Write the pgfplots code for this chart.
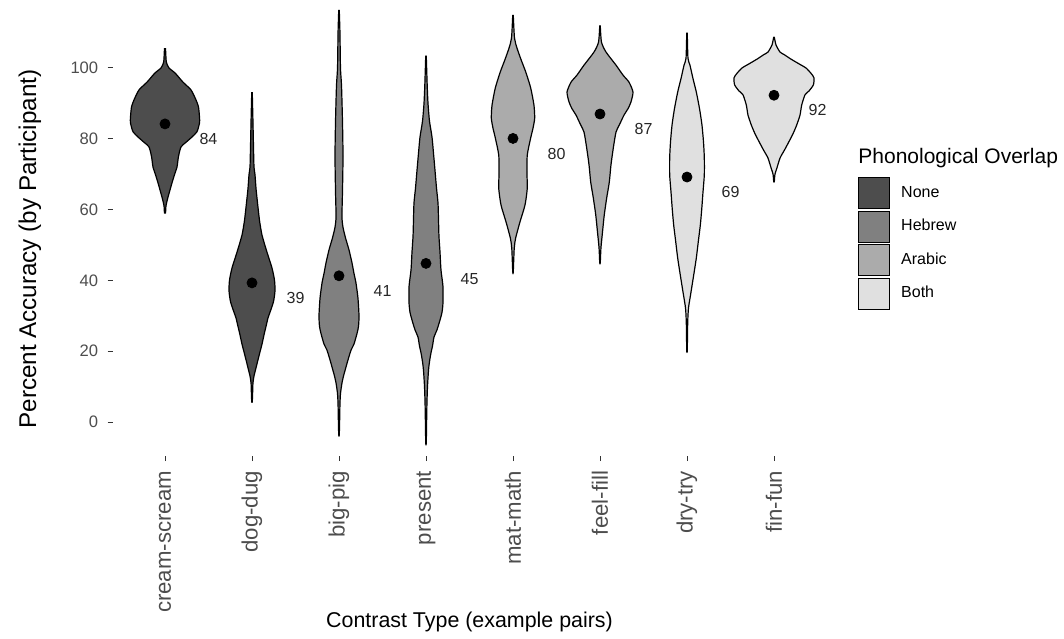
\documentclass[border=0pt]{standalone}
\usepackage{fontspec}
\setmainfont{Liberation Sans}
\usepackage{pgfplots}
\pgfplotsset{compat=1.18}
\usepackage{pgfplotstable}
\definecolor{cNone}{HTML}{4D4D4D}
\definecolor{cHeb}{HTML}{808080}
\definecolor{cAra}{HTML}{ABABAB}
\definecolor{cBoth}{HTML}{E0E0E0}
\definecolor{axtext}{HTML}{4D4D4D}
\definecolor{tickc}{HTML}{333333}

% violin outlines: accuracy v, signed horizontal offset d from the category centre (x units)
\pgfplotstableread{
v d
105.6 0.006
103 0.011
101.5 0.017
100 0.046
98.6 0.115
96 0.207
93.8 0.299
91 0.356
89 0.385
86 0.397
84.5 0.397
82 0.368
80.5 0.310
79 0.241
77.7 0.184
75 0.155
72 0.138
70.3 0.115
68 0.086
65.5 0.057
63 0.029
61 0.011
59 0.006
59 -0.006
61 -0.011
63 -0.029
65.5 -0.057
68 -0.086
70.3 -0.115
72 -0.138
75 -0.155
77.7 -0.184
79 -0.241
80.5 -0.310
82 -0.368
84.5 -0.397
86 -0.397
89 -0.385
91 -0.356
93.8 -0.299
96 -0.207
98.6 -0.115
100 -0.046
101.5 -0.017
103 -0.011
105.6 -0.006
}\vA
\pgfplotstableread{
v d
93.2 0.003
85 0.011
78 0.017
72 0.023
70 0.034
66 0.046
62 0.063
57 0.086
52.8 0.115
48 0.172
43.5 0.230
40 0.259
37 0.264
34 0.247
31 0.207
29.4 0.184
27 0.161
24.6 0.138
22 0.115
19.8 0.092
17 0.063
15.3 0.046
13 0.023
11 0.011
8 0.007
5.6 0.003
5.6 -0.003
8 -0.007
11 -0.011
13 -0.023
15.3 -0.046
17 -0.063
19.8 -0.092
22 -0.115
24.6 -0.138
27 -0.161
29.4 -0.184
31 -0.207
34 -0.247
37 -0.264
40 -0.259
43.5 -0.230
48 -0.172
52.8 -0.115
57 -0.086
62 -0.063
66 -0.046
70 -0.034
72 -0.023
78 -0.017
85 -0.011
93.2 -0.003
}\vB
\pgfplotstableread{
v d
116.4 0.003
110 0.011
100 0.017
95 0.029
85 0.040
75 0.046
65 0.040
58 0.034
55 0.046
52 0.075
48.6 0.115
45 0.149
42 0.172
39.3 0.195
35 0.218
30 0.230
27 0.224
25 0.207
22 0.172
20.3 0.138
17.5 0.103
15.5 0.080
13 0.052
11 0.034
8 0.017
5 0.011
0 0.007
-3.7 0.003
-3.7 -0.003
0 -0.007
5 -0.011
8 -0.017
11 -0.034
13 -0.052
15.5 -0.080
17.5 -0.103
20.3 -0.138
22 -0.172
25 -0.207
27 -0.224
30 -0.230
35 -0.218
39.3 -0.195
42 -0.172
45 -0.149
48.6 -0.115
52 -0.075
55 -0.046
58 -0.034
65 -0.040
75 -0.046
85 -0.040
95 -0.029
100 -0.017
110 -0.011
116.4 -0.003
}\vC
\pgfplotstableread{
v d
103.5 0.003
95 0.014
90 0.023
85 0.040
80.5 0.069
76 0.086
71.2 0.103
66 0.121
61.9 0.138
57 0.144
52.5 0.149
48 0.161
43 0.172
38.3 0.195
33.6 0.195
31 0.184
28.8 0.161
26 0.126
24 0.092
21.5 0.075
19.5 0.057
17 0.040
14.7 0.029
9.9 0.017
5.4 0.011
0 0.007
-6 0.003
-6 -0.003
0 -0.007
5.4 -0.011
9.9 -0.017
14.7 -0.029
17 -0.040
19.5 -0.057
21.5 -0.075
24 -0.092
26 -0.126
28.8 -0.161
31 -0.184
33.6 -0.195
38.3 -0.195
43 -0.172
48 -0.161
52.5 -0.149
57 -0.144
61.9 -0.138
66 -0.121
71.2 -0.103
76 -0.086
80.5 -0.069
85 -0.040
90 -0.023
95 -0.014
103.5 -0.003
}\vD
\pgfplotstableread{
v d
115 0.003
108.5 0.017
105.6 0.046
102 0.098
98.9 0.146
94.4 0.203
89.5 0.241
85.8 0.249
83 0.230
80.2 0.203
75.4 0.164
70 0.161
66 0.164
61.3 0.138
56.5 0.080
52 0.031
49 0.014
42.4 0.003
42.4 -0.003
49 -0.014
52 -0.031
56.5 -0.080
61.3 -0.138
66 -0.164
70 -0.161
75.4 -0.164
80.2 -0.203
83 -0.230
85.8 -0.249
89.5 -0.241
94.4 -0.203
98.9 -0.146
102 -0.098
105.6 -0.046
108.5 -0.017
115 -0.003
}\vE
\pgfplotstableread{
v d
112 0.003
107.3 0.017
104.5 0.069
100.8 0.184
98 0.264
96 0.333
93.2 0.379
90.4 0.356
88.5 0.322
86.7 0.276
84 0.224
81.9 0.184
77.4 0.153
72.6 0.126
67.8 0.107
63.3 0.077
58.5 0.049
53.7 0.029
49.2 0.011
45 0.003
45 -0.003
49.2 -0.011
53.7 -0.029
58.5 -0.049
63.3 -0.077
67.8 -0.107
72.6 -0.126
77.4 -0.153
81.9 -0.184
84 -0.224
86.7 -0.276
88.5 -0.322
90.4 -0.356
93.2 -0.379
96 -0.333
98 -0.264
100.8 -0.184
104.5 -0.069
107.3 -0.017
112 -0.003
}\vF
\pgfplotstableread{
v d
110 0.003
102.8 0.011
100.8 0.034
97 0.069
93.2 0.107
88.5 0.144
83.9 0.172
79 0.190
74.6 0.199
69.8 0.199
65 0.184
60 0.169
55.6 0.153
51 0.130
46.3 0.107
41.5 0.077
36.7 0.046
32.2 0.017
28 0.008
20.3 0.003
20.3 -0.003
28 -0.008
32.2 -0.017
36.7 -0.046
41.5 -0.077
46.3 -0.107
51 -0.130
55.6 -0.153
60 -0.169
65 -0.184
69.8 -0.199
74.6 -0.199
79 -0.190
83.9 -0.172
88.5 -0.144
93.2 -0.107
97 -0.069
100.8 -0.034
102.8 -0.011
110 -0.003
}\vG
\pgfplotstableread{
v d
108.8 0.003
106.5 0.023
104.5 0.069
103.8 0.115
102.5 0.195
101 0.299
100 0.368
98.5 0.425
97.2 0.460
95.2 0.452
93.5 0.402
92.4 0.356
89.5 0.318
86.7 0.299
83.9 0.261
81.5 0.220
79.1 0.170
76.8 0.120
74.6 0.070
71.8 0.034
70 0.011
67.8 0.003
67.8 -0.003
70 -0.011
71.8 -0.034
74.6 -0.070
76.8 -0.120
79.1 -0.170
81.5 -0.220
83.9 -0.261
86.7 -0.299
89.5 -0.318
92.4 -0.356
93.5 -0.402
95.2 -0.452
97.2 -0.460
98.5 -0.425
100 -0.368
101 -0.299
102.5 -0.195
103.8 -0.115
104.5 -0.069
106.5 -0.023
108.8 -0.003
}\vH
\pgfplotstableread{
x m lab
1 84.2 84
2 39.3 39
3 41.3 41
4 44.8 45
5 80.1 80
6 87.0 87
7 69.2 69
8 92.3 92
}\means

\newcommand{\violin}[3]{%
  \addplot[fill=#3, draw=black, line width=0.6pt, line join=round, smooth, tension=0.4, forget plot]
    table[x expr=#1+\thisrow{d}, y=v]{#2};
}

\begin{document}
\begin{tikzpicture}
\begin{axis}[
  name=ax, at={(0,0)}, anchor=south west,
  width=356.7pt, height=228pt, scale only axis,
  xmin=0.4, xmax=8.6, ymin=-9.6, ymax=119.2,
  axis x line*=bottom, axis y line*=left, axis line style={draw=none},
  tick align=outside, major tick length=2.6pt,
  tick style={draw=tickc, line width=0.5pt},
  xtick={1,2,3,4,5,6,7,8},
  xticklabels={cream-scream,dog-dug,big-pig,present,mat-math,feel-fill,dry-try,fin-fun},
  ytick={0,20,40,60,80,100},
  /pgf/number format/assume math mode=true,
  xticklabel style={rotate=90, anchor=east, inner sep=0pt, font=\fontsize{11.1}{13}\selectfont, text=axtext},
  yticklabel style={anchor=east, inner sep=0pt, font=\fontsize{8.3}{10}\selectfont, text=axtext},
  xticklabel shift=4.7pt, yticklabel shift=4.5pt,
  clip=false,
  xlabel={Contrast Type (example pairs)},
  ylabel={Percent Accuracy (by Participant)},
  xlabel style={at={(axis description cs:0.5,-0.364)}, anchor=center, inner sep=0pt, font=\fontsize{10.7}{12}\selectfont},
  ylabel style={at={(axis description cs:-0.1161,0.454)}, anchor=center, inner sep=0pt, font=\fontsize{12.1}{14}\selectfont},
  legend image code/.code={\draw[#1, line width=0.6pt] (0pt,-7.75pt) rectangle (15.5pt,7.75pt);},
  legend cell align=left,
  legend style={at={(1.0446,0.6118)}, anchor=north west, draw=none, fill=none,
    inner sep=0pt, outer sep=0pt, row sep=0.65pt, column sep=5.5pt,
    nodes={inner sep=0pt}, font=\fontsize{8}{9.6}\selectfont},
]
\violin{1}{\vA}{cNone}
\violin{2}{\vB}{cNone}
\violin{3}{\vC}{cHeb}
\violin{4}{\vD}{cHeb}
\violin{5}{\vE}{cAra}
\violin{6}{\vF}{cAra}
\violin{7}{\vG}{cBoth}
\violin{8}{\vH}{cBoth}

\addplot[only marks, mark=*, mark size=2.5pt, black, forget plot] table[x=x, y=m]{\means};
\addplot[draw=none, mark=none, forget plot, nodes near coords, point meta=explicit symbolic,
  every node near coord/.append style={anchor=center, inner sep=0pt, font=\fontsize{8}{9.6}\selectfont, text=black!85}]
  table[x expr=\thisrow{x}+0.5, y expr=\thisrow{m}-4.3, meta=lab]{\means};

\addlegendimage{fill=cNone, draw=black}\addlegendentry{None}
\addlegendimage{fill=cHeb, draw=black}\addlegendentry{Hebrew}
\addlegendimage{fill=cAra, draw=black}\addlegendentry{Arabic}
\addlegendimage{fill=cBoth, draw=black}\addlegendentry{Both}

\node[anchor=base west, inner sep=0pt, font=\fontsize{10.5}{12}\selectfont] at (axis description cs:1.0446,0.6404) {Phonological Overlap};
\end{axis}
\pgfresetboundingbox
\path[use as bounding box] ([xshift=-56.4pt, yshift=-91pt]ax.south west) rectangle ++(532pt,319pt);
\end{tikzpicture}
\end{document}
